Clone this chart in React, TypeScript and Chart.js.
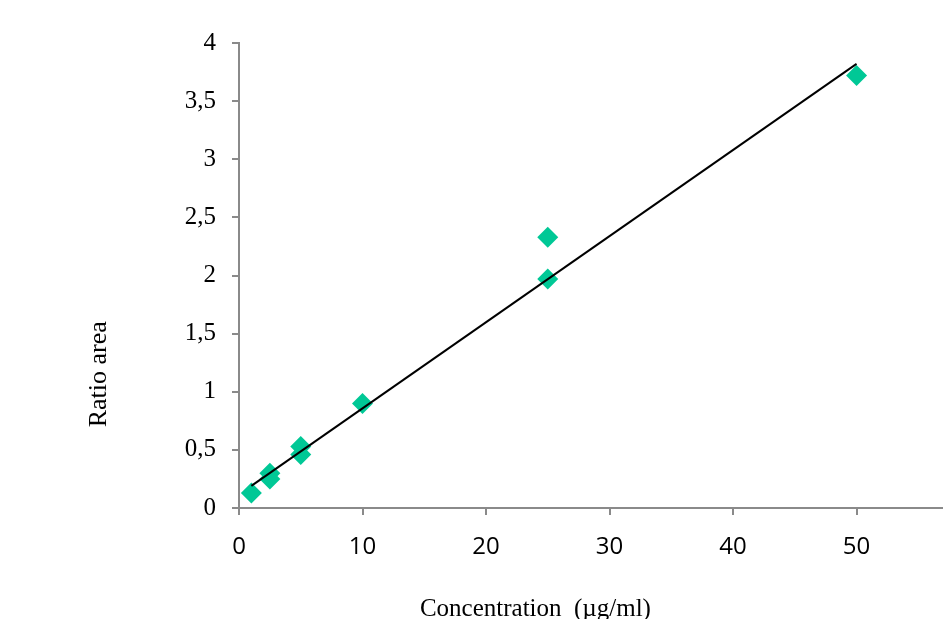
import React, { useEffect, useRef } from "react";
import { Chart, registerables } from "chart.js";

Chart.register(...registerables);

// Measured points (concentration µg/ml, ratio area)
const concentrations = [1, 2.5, 2.5, 5, 5, 10, 25, 25, 50];
const ratioAreas = [0.13, 0.3, 0.25, 0.53, 0.46, 0.9, 2.33, 1.97, 3.72];

// Linear trend line end points
const trendX = [1, 50];
const trendY = [0.19, 3.82];

// Axis ticks
const xTicks = [0, 10, 20, 30, 40, 50];
const yTicks = [0, 0.5, 1, 1.5, 2, 2.5, 3, 3.5, 4];
const yTickLabels = ["0", "0,5", "1", "1,5", "2", "2,5", "3", "3,5", "4"];

const X_TITLE = "Concentration  (µg/ml)";
const Y_TITLE = "Ratio area";
const X_TITLE_AT = 24; // data units along x where title is centred
const Y_TITLE_AT = 1.15; // data units along y where title is centred

const AXIS_COLOR = "#8a8a8a";
const MARKER_COLOR = "#00C896";

const axisTitlePlugin = {
  id: "axisTitles",
  afterDraw(chart: any) {
    const { ctx } = chart;
    const xs = chart.scales.x;
    const ys = chart.scales.y;
    ctx.save();
    ctx.fillStyle = "#000";
    ctx.font = '25px "Liberation Serif"';
    ctx.textAlign = "center";
    ctx.textBaseline = "alphabetic";
    ctx.fillText(X_TITLE, xs.getPixelForValue(X_TITLE_AT), chart.height - 3);
    ctx.font = '26px "Liberation Serif"';
    ctx.translate(ys.left + 106, ys.getPixelForValue(Y_TITLE_AT));
    ctx.rotate(-Math.PI / 2);
    ctx.fillText(Y_TITLE, 0, 0);
    ctx.restore();
  },
};

export default function App() {
  const canvasRef = useRef<HTMLCanvasElement | null>(null);

  useEffect(() => {
    if (!canvasRef.current) return;
    const chart = new Chart(canvasRef.current, {
      type: "scatter",
      data: {
        datasets: [
          {
            type: "line",
            label: "Trend",
            data: trendX.map((x, i) => ({ x, y: trendY[i] })),
            borderColor: "#000",
            borderWidth: 2,
            pointRadius: 0,
            fill: false,
          } as any,
          {
            label: "Ratio area",
            data: concentrations.map((x, i) => ({ x, y: ratioAreas[i] })),
            pointStyle: "rectRot",
            pointRadius: 10.5,
            pointHoverRadius: 10.5,
            backgroundColor: MARKER_COLOR,
            borderColor: MARKER_COLOR,
            borderWidth: 0,
          },
        ],
      },
      options: {
        animation: false,
        responsive: false,
        layout: { autoPadding: false, padding: { top: 43, right: 0, bottom: 0, left: 0 } },
        plugins: {
          legend: { display: false },
          tooltip: { enabled: false },
          title: { display: false },
        },
        scales: {
          x: {
            type: "linear",
            min: 0,
            max: 57,
            afterBuildTicks: (scale: any) => {
              scale.ticks = xTicks.map((v) => ({ value: v }));
            },
            afterFit: (scale: any) => {
              scale.height = 111;
              scale.paddingRight = 0;
              scale.paddingLeft = 0;
            },
            border: { display: true, color: AXIS_COLOR, width: 2 },
            grid: {
              display: true,
              drawOnChartArea: false,
              drawTicks: true,
              tickLength: 7,
              color: AXIS_COLOR,
              lineWidth: 2,
            },
            ticks: {
              color: "#000",
              font: { family: '"Open Sans"', size: 24 },
              padding: 18,
              maxRotation: 0,
            },
          },
          y: {
            type: "linear",
            min: 0,
            max: 4,
            afterBuildTicks: (scale: any) => {
              scale.ticks = yTicks.map((v) => ({ value: v }));
            },
            afterFit: (scale: any) => {
              scale.width = 239;
            },
            border: { display: true, color: AXIS_COLOR, width: 2 },
            grid: {
              display: true,
              drawOnChartArea: false,
              drawTicks: true,
              tickLength: 7,
              color: AXIS_COLOR,
              lineWidth: 2,
            },
            ticks: {
              color: "#000",
              font: { family: '"Liberation Serif"', size: 25 },
              padding: 16,
              callback: (value: any) => {
                const i = yTicks.indexOf(Number(value));
                return i >= 0 ? yTickLabels[i] : "";
              },
            },
          },
        },
      },
      plugins: [axisTitlePlugin],
    });
    return () => chart.destroy();
  }, []);

  return (
    <div style={{ position: "absolute", left: 0, top: 0, width: 943, height: 619, background: "#fff" }}>
      <canvas ref={canvasRef} width={943} height={619} />
    </div>
  );
}
